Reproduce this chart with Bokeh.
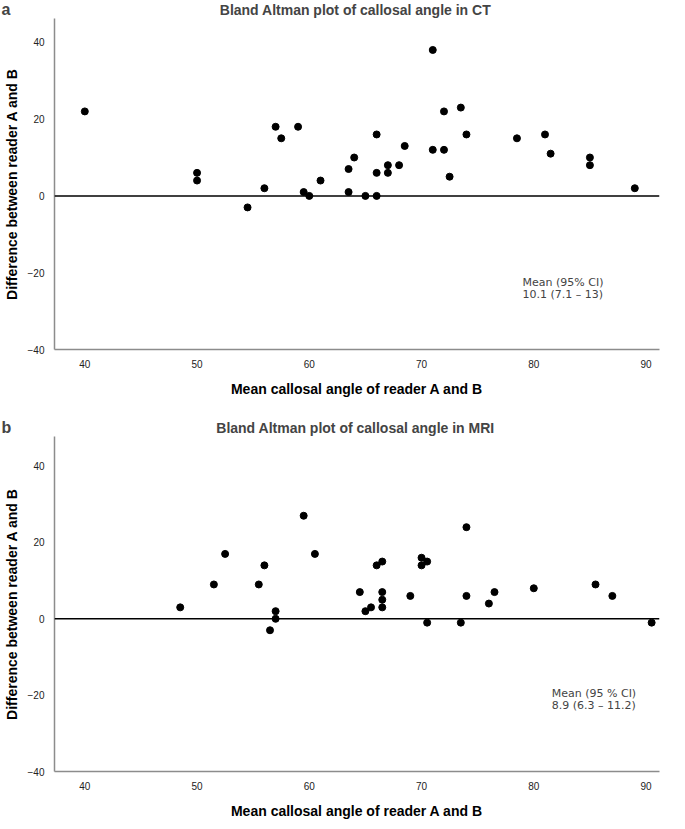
from bokeh.plotting import figure
from bokeh.layouts import column
from bokeh.models import Span, Label, FixedTicker, Range1d
from bokeh.embed import file_html
from bokeh.resources import INLINE

# ---- data ----
ct_mean = [40, 50, 50, 54.5, 56, 57, 57.5, 59, 59.5, 60, 61, 63.5, 63.5, 64, 65,
           66, 66, 66, 67, 67, 68, 68.5, 71, 71, 72, 72, 72.5, 73.5, 74, 78.5,
           81, 81.5, 85, 85, 89]
ct_diff = [22, 6, 4, -3, 2, 18, 15, 18, 1, 0, 4, 7, 1, 10, 0,
           16, 0, 6, 8, 6, 8, 13, 38, 12, 22, 12, 5, 23, 16, 15,
           16, 11, 10, 8, 2]

mri_mean = [48.5, 51.5, 52.5, 55.5, 56, 57, 57, 56.5, 59.5, 60.5, 64.5, 65, 65.5,
            66, 66.5, 66.5, 66.5, 66.5, 69, 70, 70, 70.5, 70.5, 73.5, 74, 74,
            76, 76.5, 80, 85.5, 87, 90.5]
mri_diff = [3, 9, 17, 9, 14, 2, 0, -3, 27, 17, 7, 2, 3,
            14, 15, 7, 5, 3, 6, 16, 14, 15, -1, -1, 24, 6,
            4, 7, 8, 9, 6, -1]

x_ticks = [40, 50, 60, 70, 80, 90]
y_ticks = [-40, -20, 0, 20, 40]

ct_title = "Bland Altman plot of callosal angle in CT"
mri_title = "Bland Altman plot of callosal angle in MRI"
ct_ann = ["Mean (95% CI)", "10.1 (7.1 \u2013 13)"]
mri_ann = ["Mean (95 % CI)", "8.9 (6.3 \u2013 11.2)"]
x_label = "Mean callosal angle of reader A and B"
y_label = "Difference between reader A and B"

SANS = "Liberation Sans"
W = 669
LEFT = 39
RIGHT_PANEL = 10
PX_PER_UNIT = 3.84


def panel(letter, title, xs, ys, ann, ann_x, ann_y, height, btop, bbot):
    frame_h = height - btop - bbot
    y_top = -40 + frame_h / PX_PER_UNIT
    p = figure(width=W, height=height, output_backend="svg", toolbar_location=None,
               x_range=Range1d(37.3, 91.2), y_range=Range1d(-40, y_top),
               min_border_left=LEFT, min_border_right=0,
               min_border_top=btop, min_border_bottom=bbot)
    p.grid.visible = False
    p.outline_line_color = None

    for ax in (p.xaxis[0], p.yaxis[0]):
        ax.axis_line_color = "#8c8c8c"
        ax.axis_line_width = 1.5
        ax.major_tick_line_color = None
        ax.minor_tick_line_color = None
        ax.major_label_text_font = SANS
        ax.major_label_text_font_size = "10px"
        ax.major_label_text_color = "#222222"
        ax.axis_label_text_font = SANS
        ax.axis_label_text_font_size = "14px"
        ax.axis_label_text_font_style = "bold"
        ax.axis_label_text_color = "black"
        ax.major_label_standoff = 4

    p.xaxis.ticker = FixedTicker(ticks=x_ticks)
    p.yaxis.ticker = FixedTicker(ticks=y_ticks)
    p.xaxis.axis_label = x_label
    p.yaxis.axis_label = y_label
    p.xaxis.axis_label_standoff = 10
    p.yaxis.axis_label_standoff = 5

    p.add_layout(Span(location=0, dimension="width", line_color="black", line_width=1.5))
    p.scatter(xs, ys, size=7, color="black")

    p.add_layout(Label(x=(W - LEFT - RIGHT_PANEL) / 2 - 9, y=y_top, y_offset=9,
                       x_units="screen", y_units="data",
                       text=title, text_font=SANS, text_font_style="bold",
                       text_font_size="14px", text_baseline="middle", text_align="center"),
                 "above")
    p.add_layout(Label(x=-(W - RIGHT_PANEL) + 1, y=y_top, y_offset=9,
                       x_units="screen", y_units="data",
                       text=letter, text_font=SANS, text_font_style="bold",
                       text_font_size="16px", text_baseline="middle", text_align="left"),
                 "right")
    p.add_layout(Label(x=ann_x, y=ann_y, text=ann[0], text_font="DejaVu Sans",
                       text_font_size="11px", text_baseline="middle", text_align="left"))
    p.add_layout(Label(x=ann_x, y=ann_y, y_offset=-12, text=ann[1], text_font="DejaVu Sans",
                       text_font_size="11px", text_baseline="middle", text_align="left"))
    return p


p1 = panel("a", ct_title, ct_mean, ct_diff, ct_ann, 79.0, -22.5, 418, 18, 69)
p2 = panel("b", mri_title, mri_mean, mri_diff, mri_ann, 81.6, -19.5, 403, 18, 48)

layout = column(p1, p2, spacing=0)
open("out.html", "w").write(file_html(layout, INLINE))
